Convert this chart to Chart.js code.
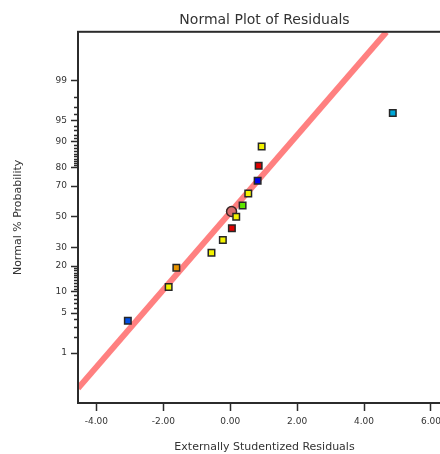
<!DOCTYPE html>
<html>
<head>
<meta charset="utf-8">
<script src="https://cdn.jsdelivr.net/npm/chart.js@4.4.1/dist/chart.umd.min.js"></script>
<style>
html, body { margin: 0; padding: 0; background: #fff; overflow: hidden; }
#wrap { position: relative; width: 460px; height: 454px; }
</style>
</head>
<body>
<div id="wrap"><canvas id="chart" width="460" height="454"></canvas></div>
<script>
// residuals sorted ascending, with their normal % probability
const residuals = [-3.06, -1.84, -1.61, -0.56, -0.22, 0.05, 0.18, 0.37, 0.54, 0.82, 0.85, 0.94, 4.86];
const probabilities = [3.8, 11.5, 19.2, 26.9, 34.6, 42.3, 50, 57.7, 65.4, 73.1, 80.8, 88.5, 96.2];
const pointColors = ['#0050e8', '#f2f200', '#e89400', '#f2f200', '#f2f200', '#e00000', '#f2f200',
                     '#5ee600', '#f2f200', '#0000f0', '#e00000', '#f2f200', '#00a8d8'];

// highlighted point (circle)
const selectedX = [0.04];
const selectedP = [53.6];

// reference line end points
const lineX = [-4.55, 4.67];
const lineP = [0.17, 99.92];

const xTicks = [-4, -2, 0, 2, 4, 6];
const yMajor = [1, 5, 10, 20, 30, 50, 70, 80, 90, 95, 99];
const yMinor = [2, 3, 4, 6, 7, 8, 9, 11, 12, 13, 14, 15, 16, 17, 18, 19,
                81, 82, 83, 84, 85, 86, 87, 88, 89, 91, 92, 93, 94, 96, 97, 98];

// inverse normal cdf (Acklam), percent -> z
function probit(pct) {
    const p = pct / 100;
    const a = [-3.969683028665376e+01, 2.209460984245205e+02, -2.759285104469687e+02, 1.383577518672690e+02, -3.066479806614716e+01, 2.506628277459239e+00];
    const b = [-5.447609879822406e+01, 1.615858368580409e+02, -1.556989798598866e+02, 6.680131188771972e+01, -1.328068155288572e+01];
    const c = [-7.784894002430293e-03, -3.223964580411365e-01, -2.400758277161838e+00, -2.549732539343734e+00, 4.374664141464968e+00, 2.938163982698783e+00];
    const d = [7.784695709041462e-03, 3.224671290700398e-01, 2.445134137142996e+00, 3.754408661907416e+00];
    const pl = 0.02425;
    let q, r;
    if (p < pl) {
        q = Math.sqrt(-2 * Math.log(p));
        return (((((c[0]*q+c[1])*q+c[2])*q+c[3])*q+c[4])*q+c[5]) / ((((d[0]*q+d[1])*q+d[2])*q+d[3])*q+1);
    }
    if (p > 1 - pl) {
        q = Math.sqrt(-2 * Math.log(1 - p));
        return -(((((c[0]*q+c[1])*q+c[2])*q+c[3])*q+c[4])*q+c[5]) / ((((d[0]*q+d[1])*q+d[2])*q+d[3])*q+1);
    }
    q = p - 0.5; r = q * q;
    return (((((a[0]*r+a[1])*r+a[2])*r+a[3])*r+a[4])*r+a[5])*q / (((((b[0]*r+b[1])*r+b[2])*r+b[3])*r+b[4])*r+1);
}

// box around the plot + short minor ticks on the probability axis
const framePlugin = {
    id: 'frame',
    afterDraw(chart) {
        const { ctx, chartArea: a, scales: { y } } = chart;
        ctx.save();
        ctx.strokeStyle = '#2b2b2b';
        ctx.lineWidth = 1.5;
        yMinor.forEach(p => {
            const py = Math.round(y.getPixelForValue(probit(p))) + 0.5;
            ctx.beginPath();
            ctx.moveTo(a.left - 4, py);
            ctx.lineTo(a.left, py);
            ctx.stroke();
        });
        ctx.lineWidth = 2;
        ctx.strokeRect(a.left, a.top, a.right - a.left, a.bottom - a.top);
        ctx.restore();
    }
};

const textColor = '#333';
const fontFamily = 'DejaVu Sans';

new Chart(document.getElementById('chart'), {
    type: 'scatter',
    data: {
        datasets: [{
            label: 'Residuals',
            data: residuals.map((x, i) => ({ x: x, y: probit(probabilities[i]) })),
            pointStyle: 'rect',
            pointRadius: 4.6,
            pointBackgroundColor: pointColors,
            pointBorderColor: '#262626',
            pointBorderWidth: 1.5,
            order: 0
        }, {
            label: 'Selected',
            data: selectedX.map((x, i) => ({ x: x, y: probit(selectedP[i]) })),
            pointStyle: 'circle',
            pointRadius: 5,
            pointBackgroundColor: '#d66c6c',
            pointBorderColor: '#3a2626',
            pointBorderWidth: 1.5,
            order: 1
        }, {
            type: 'line',
            label: 'Normal line',
            data: lineX.map((x, i) => ({ x: x, y: probit(lineP[i]) })),
            borderColor: '#ff8080',
            borderWidth: 6,
            pointRadius: 0,
            order: 2
        }]
    },
    options: {
        responsive: false,
        animation: false,
        layout: { padding: { right: 9 } },
        plugins: {
            legend: { display: false },
            tooltip: { enabled: false },
            title: {
                display: true,
                text: 'Normal Plot of Residuals',
                fullSize: false,
                color: textColor,
                font: { family: fontFamily, size: 14, weight: 'normal' },
                padding: { top: 12, bottom: 3 }
            }
        },
        scales: {
            x: {
                type: 'linear',
                min: -4.55,
                max: 6.6,
                afterBuildTicks: s => { s.ticks = xTicks.map(v => ({ value: v })); },
                afterFit: s => { s.height = 51; },
                border: { display: false },
                grid: { drawOnChartArea: false, tickLength: 8, tickWidth: 1.5, tickColor: '#2b2b2b' },
                ticks: {
                    autoSkip: false,
                    maxRotation: 0,
                    padding: 5,
                    color: textColor,
                    font: { family: fontFamily, size: 9 },
                    callback: v => v.toFixed(2)
                },
                title: {
                    display: true,
                    text: 'Externally Studentized Residuals',
                    color: textColor,
                    font: { family: fontFamily, size: 11 },
                    padding: { top: 0, bottom: 0 }
                }
            },
            y: {
                type: 'linear',
                min: -3.18,
                max: 3.16,
                afterBuildTicks: s => { s.ticks = yMajor.map(p => ({ value: probit(p) })); },
                afterFit: s => { s.width = 78; },
                border: { display: false },
                grid: { drawOnChartArea: false, tickLength: 7, tickWidth: 1.5, tickColor: '#2b2b2b' },
                ticks: {
                    autoSkip: false,
                    padding: 4,
                    color: textColor,
                    font: { family: fontFamily, size: 9 },
                    callback: (v, i) => String(yMajor[i])
                },
                title: {
                    display: true,
                    text: 'Normal % Probability',
                    color: textColor,
                    font: { family: fontFamily, size: 11 },
                    padding: { top: 12, bottom: 0 }
                }
            }
        }
    },
    plugins: [framePlugin]
});
</script>
</body>
</html>
